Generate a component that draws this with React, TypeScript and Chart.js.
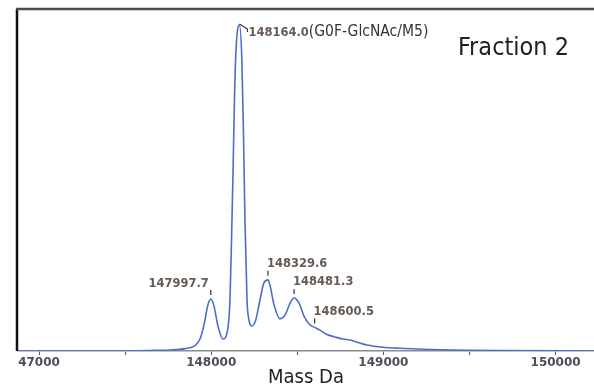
import React, { useEffect, useRef } from "react";
import { Chart, registerables } from "chart.js";

Chart.register(...registerables);

// Deconvoluted spectrum (mass in Da, relative intensity %)
const massDa = [
  146878, 147354, 147645, 147761, 147848, 147906, 147935, 147958, 147981, 147997.7,
  148016, 148039, 148068, 148092, 148109, 148118, 148127, 148135, 148144, 148164.0,
  148178, 148187, 148196, 148208, 148219, 148236, 148259, 148283, 148306, 148329.6,
  148341, 148365, 148399, 148429, 148458, 148481.3, 148510, 148539, 148568, 148600.5,
  148632, 148672, 148719, 148765, 148806, 148852, 148905, 148998, 149096, 149195,
  149329, 149485, 149677, 150223,
];
const intensity = [
  0, 0, 0.15, 0.3, 0.7, 1.6, 3.5, 7.6, 13.5, 15.2,
  13.2, 7.3, 3.5, 5.3, 14.9, 32.5, 52.9, 73.4, 88, 95.3,
  85.1, 64.6, 38.3, 14.9, 9.1, 7.3, 9.1, 14.9, 19.9, 20.8,
  19.3, 13.5, 9.4, 10.5, 14.0, 15.5, 14.0, 10.2, 7.9, 6.9,
  6.1, 4.8, 4.1, 3.5, 3.2, 2.5, 1.75, 1.1, 0.8, 0.6,
  0.35, 0.2, 0.1, 0,
];

const tickValues = [147000, 148000, 149000, 150000];
const tickLabels = ["47000", "148000", "149000", "150000"];
const minorTickValues = [147500, 148500, 149500];

const peakMasses = [147997.7, 148329.6, 148481.3, 148600.5];
const peakLabels = ["147997.7", "148329.6", "148481.3", "148600.5"];
const mainPeakMass = 148164.0;
const mainPeakLabel = "148164.0";
const mainPeakNote = "(G0F-GlcNAc/M5)";
const panelTitle = "Fraction 2";
const xAxisTitle = "Mass Da";

const NARROW = "'Liberation Sans Narrow', 'DejaVu Sans Condensed', 'Roboto', sans-serif";
const LABEL_FONT = "600 11.5px 'DejaVu Sans', Verdana, sans-serif";

const intensityAt = (m: number) => {
  const i = massDa.indexOf(m);
  return i >= 0 ? intensity[i] : 0;
};

const decorPlugin = {
  id: "decor",
  afterDraw(chart: any) {
    const { ctx, chartArea, scales } = chart;
    const xs = scales.x;
    const ys = scales.y;
    ctx.save();
    // frame: left and top
    ctx.strokeStyle = "#111";
    ctx.lineWidth = 2.5;
    ctx.beginPath();
    ctx.moveTo(chartArea.left - 1, chartArea.top);
    ctx.lineTo(chartArea.left - 1, chartArea.bottom);
    ctx.stroke();
    ctx.strokeStyle = "#4a4a4a";
    ctx.beginPath();
    ctx.moveTo(chartArea.left - 2, chartArea.top);
    ctx.lineTo(chart.width, chartArea.top);
    ctx.stroke();

    // peak markers + labels
    ctx.font = LABEL_FONT;
    ctx.textBaseline = "middle";
    peakMasses.forEach((m, i) => {
      const px = xs.getPixelForValue(m);
      const py = ys.getPixelForValue(intensityAt(m));
      ctx.strokeStyle = "#333";
      ctx.lineWidth = 1.2;
      ctx.beginPath();
      ctx.moveTo(px, py - 9);
      ctx.lineTo(px, py - 4);
      ctx.stroke();
      ctx.fillStyle = "#665a53";
      if (i === 0) {
        ctx.textAlign = "right";
        ctx.fillText(peakLabels[i], px - 2, py - 15.5);
      } else {
        ctx.textAlign = "left";
        ctx.fillText(peakLabels[i], px - 1, py - 15.5);
      }
    });

    // main peak leader + label
    const mx = xs.getPixelForValue(mainPeakMass);
    const my = ys.getPixelForValue(intensityAt(mainPeakMass));
    ctx.strokeStyle = "#333";
    ctx.lineWidth = 1.2;
    ctx.beginPath();
    ctx.moveTo(mx, my - 1);
    ctx.lineTo(mx + 8, my + 4);
    ctx.lineTo(mx + 8, my + 7);
    ctx.stroke();
    ctx.textAlign = "left";
    ctx.fillStyle = "#6a5a55";
    ctx.font = LABEL_FONT;
    const lx = mx + 9;
    const ly = my + 8;
    ctx.fillText(mainPeakLabel, lx, ly);
    const w = ctx.measureText(mainPeakLabel).width;
    ctx.fillStyle = "#333";
    ctx.font = `15.5px ${NARROW}`;
    ctx.fillText(mainPeakNote, lx + w, ly - 1);

    // panel title
    ctx.fillStyle = "#222";
    ctx.font = `25px ${NARROW}`;
    ctx.textAlign = "left";
    ctx.fillText(panelTitle, 458, 48);
    ctx.restore();
  },
};

export default function App() {
  const canvasRef = useRef<HTMLCanvasElement | null>(null);

  useEffect(() => {
    document.body.style.margin = "0";
    const canvas = canvasRef.current;
    if (!canvas) return;
    const chart = new Chart(canvas, {
      type: "line",
      data: {
        datasets: [
          {
            data: massDa.map((m, i) => ({ x: m, y: intensity[i] })),
            borderColor: "#4f6dc8",
            borderWidth: 1.6,
            pointRadius: 0,
            fill: false,
            cubicInterpolationMode: "monotone",
          },
        ],
      },
      options: {
        animation: false,
        responsive: true,
        maintainAspectRatio: false,
        layout: { padding: { left: 18, top: 9, right: 0, bottom: 0 } },
        plugins: {
          legend: { display: false },
          tooltip: { enabled: false },
        },
        scales: {
          x: {
            type: "linear",
            min: 146878,
            max: 150223,
            afterBuildTicks: (scale: any) => {
              scale.ticks = [...tickValues, ...minorTickValues]
                .sort((a, b) => a - b)
                .map((v) => ({ value: v }));
            },
            afterFit: (scale: any) => {
              scale.height = 37;
            },
            border: { color: "#8a8a8a", width: 1.5 },
            grid: {
              drawOnChartArea: false,
              drawTicks: true,
              tickLength: 4,
              color: "#555",
            },
            ticks: {
              autoSkip: false,
              maxRotation: 0,
              padding: 1,
              color: "#4a4f5a",
              font: { family: "'DejaVu Sans', Verdana, sans-serif", size: 12, weight: "bold" },
              callback: (v: any) => {
                const idx = tickValues.indexOf(Number(v));
                return idx >= 0 ? tickLabels[idx] : "";
              },
            },
            title: {
              display: true,
              text: xAxisTitle,
              color: "#222",
              padding: 0,
              font: { family: NARROW, size: 20, lineHeight: 1 },
            },
          },
          y: {
            display: false,
            min: 0,
            max: 100,
          },
        },
      },
      plugins: [decorPlugin],
    } as any);
    return () => chart.destroy();
  }, []);

  return (
    <div style={{ width: 594, height: 388, position: "relative" }}>
      <canvas ref={canvasRef} />
    </div>
  );
}
